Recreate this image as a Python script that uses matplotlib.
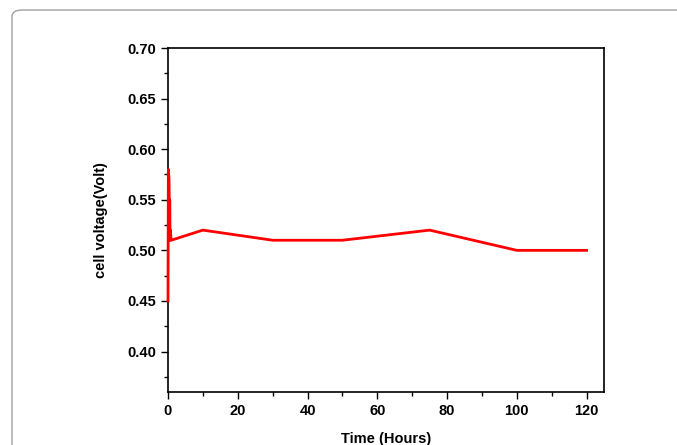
import matplotlib.pyplot as plt
from matplotlib.patches import FancyBboxPatch
from matplotlib.ticker import MultipleLocator

plt.rcParams['font.family'] = ['Liberation Sans', 'DejaVu Sans']
plt.rcParams['font.weight'] = 'bold'

# readings
time_h = [0, 0.1, 0.3, 0.4, 0.5, 0.6, 0.7, 0.9, 10, 30, 50, 75, 100, 120]
voltage = [0.45, 0.58, 0.57, 0.53, 0.55, 0.51, 0.52, 0.51, 0.52, 0.51, 0.51, 0.52, 0.50, 0.50]

fig = plt.figure(figsize=(6.77, 4.45), dpi=100)

# rounded frame around the figure
frame = FancyBboxPatch((12 / 677, -0.1), 1.0, 1.0 + 0.1 - 10 / 445,
                       boxstyle='round,pad=0,rounding_size=0.015',
                       transform=fig.transFigure, facecolor='none',
                       edgecolor='#a0a0a0', linewidth=1.0, clip_on=False)
fig.patches.append(frame)

ax = fig.add_axes([168 / 677, 53 / 445, 436 / 677, 344 / 445])
ax.plot(time_h, voltage, color='red', linewidth=2, zorder=5, clip_on=False)

ax.set_xlim(0, 125)
ax.set_ylim(0.36, 0.70)
ax.set_xticks([0, 20, 40, 60, 80, 100, 120])
ax.set_yticks([0.40, 0.45, 0.50, 0.55, 0.60, 0.65, 0.70])
ax.xaxis.set_minor_locator(MultipleLocator(10))
ax.yaxis.set_minor_locator(MultipleLocator(0.025))
ax.tick_params(which='major', direction='out', length=5, width=1, labelsize=10.5)
ax.tick_params(which='minor', direction='out', length=3, width=1)
for s in ax.spines.values():
    s.set_linewidth(1.2)

ax.set_xlabel('Time (Hours)', fontsize=10.5, fontweight='bold', labelpad=10)
ax.set_ylabel('cell voltage(Volt)', fontsize=10.5, fontweight='bold', labelpad=14)

fig.savefig('out.png', dpi=100)
